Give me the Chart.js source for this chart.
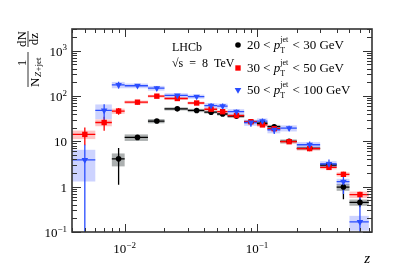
<!DOCTYPE html>
<html>
<head>
<meta charset="utf-8">
<script src="https://cdn.jsdelivr.net/npm/chart.js@4.4.1/dist/chart.umd.min.js"></script>
<style>
  html, body { margin: 0; padding: 0; background: #fff; }
</style>
</head>
<body>
<canvas id="zplot" width="393" height="274"></canvas>
<script>
// z bins (edges and centres)
const zLo = [0.004, 0.006, 0.008, 0.01, 0.015, 0.02, 0.03, 0.04, 0.05, 0.06, 0.08, 0.1, 0.12, 0.15, 0.2, 0.3, 0.4, 0.5];
const zHi = [0.006, 0.008, 0.01, 0.015, 0.02, 0.03, 0.04, 0.05, 0.06, 0.08, 0.1, 0.12, 0.15, 0.2, 0.3, 0.4, 0.5, 0.7];
const zMid = [0.005, 0.007, 0.009, 0.0125, 0.0175, 0.025, 0.035, 0.045, 0.055, 0.07, 0.09, 0.11, 0.135, 0.175, 0.25, 0.35, 0.45, 0.6];

// 20 < pT < 30 GeV
const low = [null, null, 4.1, 12.2, 28, 52, 48, 44, 40, 36, 27, 25, 21, 10, 7, 3.0, 0.98, 0.45];
const lowStat = [null, null, 3.0, 1.5, 3, 3, 3, 3, 3, 2.5, 2.5, 2.5, 2.5, 1, 0.7, 0.4, 0.45, 0.1];
const lowSyst = [null, null, 1.3, 2, 3, 4, 4, 3, 3, 3, 2, 2, 2, 1, 0.6, 0.3, 0.17, 0.07];

// 30 < pT < 50 GeV
const mid = [14.2, 26, 46.5, 73, 99, 88, 70, 51, 45, 37, 27, 23, 19, 9.8, 6.9, 2.66, 1.87, 0.67];
const midStat = [6, 9, 8, 8, 8, 6, 6, 5, 4, 3, 3, 2, 2, 1, 0.6, 0.3, 0.25, 0.1];
const midSyst = [3, 4.5, 6, 6, 7, 6, 5, 4, 3.5, 3, 2, 2, 1.5, 0.8, 0.6, 0.25, 0.2, 0.11];

// 50 < pT < 100 GeV
const high = [3.9, 48, 176, 168, 149, 103, 97, 61, 60, 45, 26, 28, 18, 19.5, 8.4, 3.16, 1.29, 0.167];
const highStat = [4.5, 18, 30, 15, 15, 8, 8, 8, 8, 5, 5, 4, 3.5, 2.5, 1.5, 0.8, 0.6, 0.5];
const highSyst = [2.6, 17, 28, 20, 18, 12, 10, 8, 8, 6, 4, 4, 3, 3, 1.2, 0.5, 0.2, 0.06];

const series = [
  { name: ['20', '30'], y: low, stat: lowStat, syst: lowSyst, color: '#000000', box: 'rgba(70,80,80,0.45)', style: 'circle', r: 2.8, rot: 0 },
  { name: ['30', '50'], y: mid, stat: midStat, syst: midSyst, color: '#ff0000', box: 'rgba(255,60,60,0.3)', style: 'rect', r: 3.8, rot: 0 },
  { name: ['50', '100'], y: high, stat: highStat, syst: highSyst, color: '#2a4dff', box: 'rgba(90,110,255,0.3)', style: 'triangle', r: 3.8, rot: 180 }
];

const SERIF = '"Liberation Serif", "DejaVu Serif", serif';

function supText(ctx, base, sup, x, y, align, size) {
  size = size || 12;
  ctx.font = size + 'px ' + SERIF;
  const wb = ctx.measureText(base).width;
  ctx.font = Math.round(size * 0.68) + 'px ' + SERIF;
  const ws = sup ? ctx.measureText(sup).width : 0;
  const w = wb + ws;
  let x0 = x;
  if (align === 'right') x0 = x - w;
  if (align === 'center') x0 = x - w / 2;
  ctx.textAlign = 'left';
  ctx.textBaseline = 'alphabetic';
  ctx.font = size + 'px ' + SERIF;
  ctx.fillText(base, x0, y);
  if (sup) {
    ctx.font = Math.round(size * 0.68) + 'px ' + SERIF;
    ctx.fillText(sup, x0 + wb, y - size * 0.42);
  }
}

function drawMarker(ctx, s, x, y) {
  ctx.fillStyle = s.color;
  ctx.beginPath();
  if (s.style === 'circle') {
    ctx.arc(x, y, s.r, 0, Math.PI * 2);
  } else if (s.style === 'rect') {
    const h = s.r * Math.SQRT1_2;
    ctx.rect(x - h, y - h, 2 * h, 2 * h);
  } else {
    const r = s.r;
    ctx.moveTo(x - r * 0.87, y - r * 0.5);
    ctx.lineTo(x + r * 0.87, y - r * 0.5);
    ctx.lineTo(x, y + r);
    ctx.closePath();
  }
  ctx.fill();
}

const axesPlugin = {
  id: 'hepAxes',
  beforeDatasetsDraw(chart) {
    const { ctx, chartArea: a, scales: { x, y } } = chart;
    ctx.save();
    ctx.beginPath();
    ctx.rect(a.left, a.top, a.right - a.left, a.bottom - a.top);
    ctx.clip();
    const ylo = v => (v > y.min ? y.getPixelForValue(v) : a.bottom + 5);
    // systematic boxes
    series.forEach(s => {
      ctx.fillStyle = s.box;
      s.y.forEach((v, i) => {
        if (v == null) return;
        const x0 = x.getPixelForValue(zLo[i]);
        const x1 = x.getPixelForValue(zHi[i]);
        const y0 = y.getPixelForValue(v + s.syst[i]);
        const y1 = ylo(v - s.syst[i]);
        ctx.fillRect(x0, y0, x1 - x0, y1 - y0);
      });
    });
    // bin widths and statistical errors
    series.forEach(s => {
      ctx.strokeStyle = s.color;
      ctx.lineWidth = 1.3;
      s.y.forEach((v, i) => {
        if (v == null) return;
        const px = x.getPixelForValue(zMid[i]);
        const py = y.getPixelForValue(v);
        ctx.beginPath();
        ctx.moveTo(x.getPixelForValue(zLo[i]), py);
        ctx.lineTo(x.getPixelForValue(zHi[i]), py);
        ctx.moveTo(px, y.getPixelForValue(v + s.stat[i]));
        ctx.lineTo(px, ylo(v - s.stat[i]));
        ctx.stroke();
      });
    });
    ctx.restore();
  },
  afterDatasetsDraw(chart) {
    const { ctx, chartArea: a, scales: { x, y } } = chart;
    ctx.save();
    ctx.strokeStyle = '#333';
    ctx.lineWidth = 1.6;
    ctx.strokeRect(a.left, a.top, a.right - a.left, a.bottom - a.top);

    // inward ticks on all four sides
    ctx.lineWidth = 1;
    ctx.beginPath();
    for (let e = -3; e <= 0; e++) {
      for (let m = 1; m <= 9; m++) {
        const v = m * Math.pow(10, e);
        if (v < x.min || v > x.max) continue;
        const p = Math.round(x.getPixelForValue(v)) + 0.5;
        const len = m === 1 ? 8 : 4;
        ctx.moveTo(p, a.bottom); ctx.lineTo(p, a.bottom - len);
        ctx.moveTo(p, a.top); ctx.lineTo(p, a.top + len);
      }
    }
    for (let e = -1; e <= 3; e++) {
      for (let m = 1; m <= 9; m++) {
        const v = m * Math.pow(10, e);
        if (v < y.min || v > y.max) continue;
        const p = Math.round(y.getPixelForValue(v)) + 0.5;
        const len = m === 1 ? 9 : 5;
        ctx.moveTo(a.left, p); ctx.lineTo(a.left + len, p);
        ctx.moveTo(a.right, p); ctx.lineTo(a.right - len, p);
      }
    }
    ctx.stroke();

    // tick labels
    ctx.fillStyle = '#000';
    [[0.1, '10', '\u22121'], [1, '1', ''], [10, '10', ''], [100, '10', '2'], [1000, '10', '3']].forEach(t => {
      supText(ctx, t[1], t[2], a.left - 5, y.getPixelForValue(t[0]) + 5, 'right', 13);
    });
    [[0.01, '10', '\u22122'], [0.1, '10', '\u22121']].forEach(t => {
      supText(ctx, t[1], t[2], x.getPixelForValue(t[0]), a.bottom + 21, 'center', 13);
    });

    // axis titles
    ctx.font = 'italic 15px ' + SERIF;
    ctx.textAlign = 'right';
    ctx.fillText('z', a.right - 2, 263);

    ctx.save();
    ctx.translate(28, 87);
    ctx.rotate(-Math.PI / 2);
    ctx.lineWidth = 1;
    ctx.beginPath();
    ctx.moveTo(0, 0); ctx.lineTo(35, 0);
    ctx.moveTo(40, 0); ctx.lineTo(56, 0);
    ctx.stroke();
    ctx.textAlign = 'center';
    ctx.font = '13px ' + SERIF;
    ctx.fillText('1', 24, -2);
    ctx.textAlign = 'left';
    ctx.fillText('N', 0, 11);
    ctx.font = 'italic 9px ' + SERIF;
    ctx.fillText('Z', 10, 13);
    ctx.font = '9px ' + SERIF;
    ctx.fillText('+jet', 15.5, 13);
    ctx.textAlign = 'center';
    ctx.font = '13px ' + SERIF;
    ctx.fillText('dN', 48, -2);
    ctx.fillText('dz', 48, 10);
    ctx.restore();

    // text and legend
    ctx.textAlign = 'left';
    ctx.font = '12px ' + SERIF;
    ctx.fillText('LHCb', 172, 51);
    ctx.font = '12px ' + SERIF;
    ctx.fillText('\u221As  =  8  TeV', 172, 67);

    const rows = [49, 72, 94];
    series.forEach((s, k) => {
      const yy = rows[k];
      drawMarker(ctx, s, 238, yy - 4);
      ctx.fillStyle = '#000';
      let cx = 247;
      ctx.font = '13px ' + SERIF;
      const t1 = s.name[0] + ' < ';
      ctx.fillText(t1, cx, yy);
      cx += ctx.measureText(t1).width;
      ctx.font = 'italic 13px ' + SERIF;
      ctx.fillText('p', cx, yy);
      cx += ctx.measureText('p').width;
      ctx.font = '8px ' + SERIF;
      ctx.fillText('jet', cx, yy - 7);
      ctx.fillText('T', cx, yy + 4);
      cx += ctx.measureText('jet').width + 1;
      ctx.font = '13px ' + SERIF;
      ctx.fillText(' < ' + s.name[1] + ' GeV', cx, yy);
    });
    ctx.restore();
  }
};

new Chart(document.getElementById('zplot'), {
  type: 'scatter',
  data: {
    datasets: series.map((s, k) => ({
      label: s.name.join('-'),
      data: s.y.map((v, i) => ({ x: zMid[i], y: v })).filter(p => p.y != null),
      pointStyle: s.style,
      pointRotation: s.rot,
      radius: s.r,
      backgroundColor: s.color,
      borderWidth: 0,
      order: 3 - k
    }))
  },
  options: {
    responsive: false,
    animation: false,
    devicePixelRatio: 1,
    layout: { padding: { left: 72, right: 21, top: 29, bottom: 42 } },
    plugins: { legend: { display: false }, tooltip: { enabled: false } },
    scales: {
      x: { type: 'logarithmic', min: 0.004, max: 0.74, display: false },
      y: { type: 'logarithmic', min: 0.1, max: 3000, display: false }
    }
  },
  plugins: [axesPlugin]
});
</script>
</body>
</html>
